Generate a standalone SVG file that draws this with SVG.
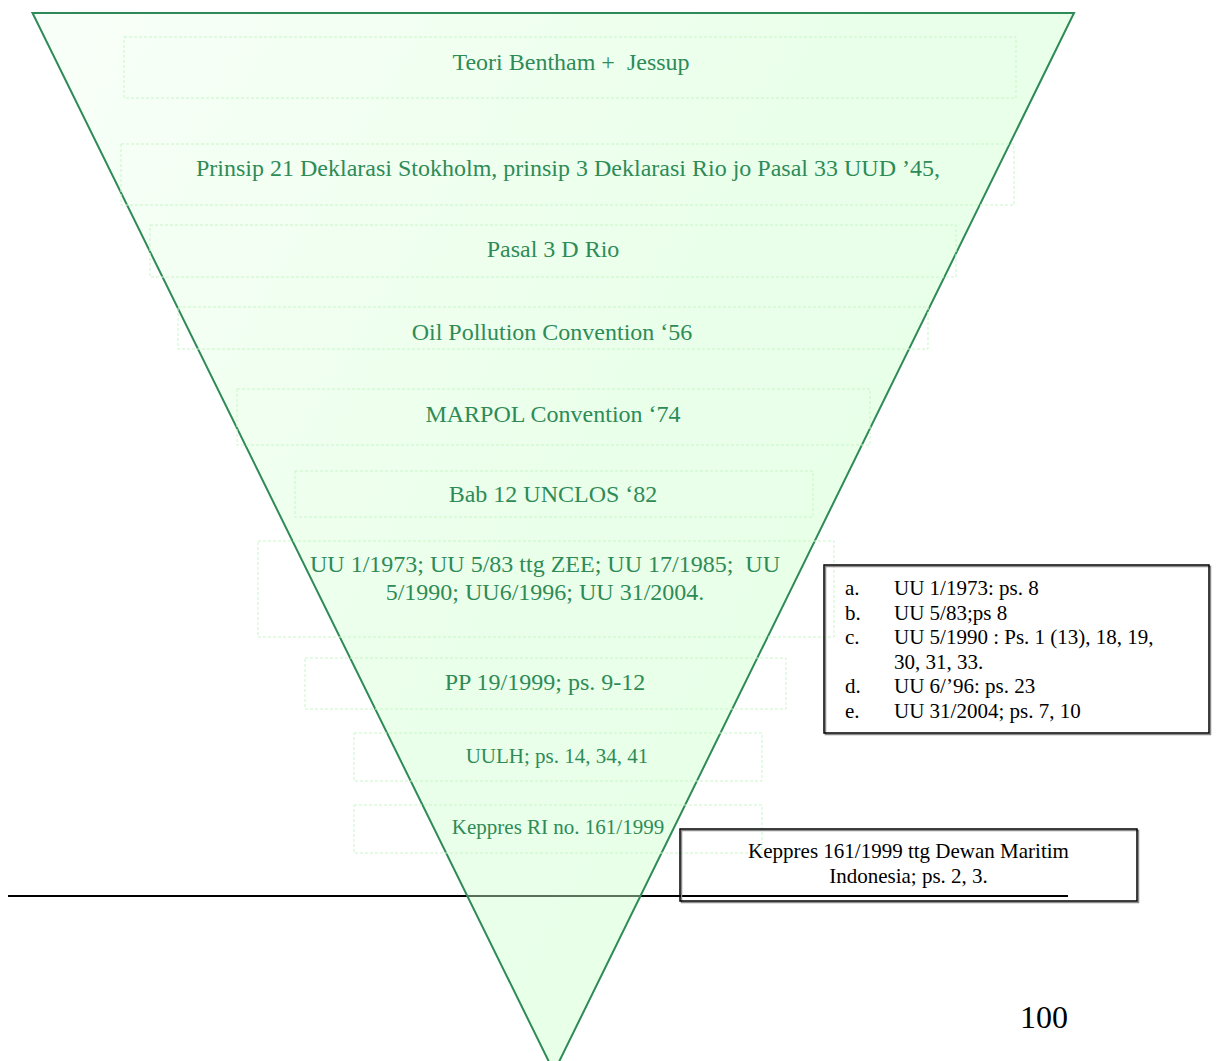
<svg xmlns="http://www.w3.org/2000/svg" width="1216" height="1061" viewBox="0 0 1216 1061">
  <defs>
    <linearGradient id="fillGrad" x1="0" y1="0" x2="1" y2="0.6">
      <stop offset="0" stop-color="#ccffcc" stop-opacity="0.12"/>
      <stop offset="0.55" stop-color="#ccffcc" stop-opacity="0.4"/>
      <stop offset="1" stop-color="#ccffcc" stop-opacity="0.5"/>
    </linearGradient>
    <style>
      .lvl { fill: none; stroke: #c8f5c8; stroke-width: 1; stroke-dasharray: 3 2; }
      .gt { font-family: "Liberation Serif", "Times New Roman", serif; font-size: 24px; fill: #2e8b57; text-anchor: middle; white-space: pre; }
      .gs { font-size: 21px; }
      .bt { font-family: "Liberation Serif", "Times New Roman", serif; font-size: 21px; fill: #000000; }
      .box { fill: none; stroke: #000000; stroke-width: 1.5; }
      .shadow { fill: none; stroke: #8a8a8a; stroke-width: 1.5; }
    </style>
  </defs>
  <rect x="0" y="0" width="1216" height="1061" fill="#ffffff"/>

  <g id="connectors">
    <line x1="8" y1="896" x2="1068" y2="896" stroke="#000000" stroke-width="2.2"/>
  </g>

  <g id="funnel">
    <polygon points="32.5,13 1074,13 554,1072" fill="url(#fillGrad)" stroke="#2e8b57" stroke-width="2" stroke-linejoin="miter"/>
  </g>

  <g id="level1">
    <rect class="lvl" x="124" y="37" width="892" height="61"/>
    <text class="gt" x="571" y="70" xml:space="preserve">Teori Bentham +  Jessup</text>
  </g>
  <g id="level2">
    <rect class="lvl" x="121" y="144" width="893" height="61"/>
    <text class="gt" x="568" y="176">Prinsip 21 Deklarasi Stokholm, prinsip 3 Deklarasi Rio jo Pasal 33 UUD ’45,</text>
  </g>
  <g id="level3">
    <rect class="lvl" x="150" y="225" width="806" height="52"/>
    <text class="gt" x="553" y="257">Pasal 3 D Rio</text>
  </g>
  <g id="level4">
    <rect class="lvl" x="178" y="307" width="750" height="42"/>
    <text class="gt" x="552" y="340">Oil Pollution Convention ‘56</text>
  </g>
  <g id="level5">
    <rect class="lvl" x="237" y="389" width="633" height="56"/>
    <text class="gt" x="553" y="422">MARPOL Convention ‘74</text>
  </g>
  <g id="level6">
    <rect class="lvl" x="295" y="471" width="518" height="46"/>
    <text class="gt" x="553" y="502">Bab 12 UNCLOS ‘82</text>
  </g>
  <g id="level7">
    <rect class="lvl" x="258" y="541" width="576" height="96"/>
    <text class="gt" x="545" y="572" xml:space="preserve">UU 1/1973; UU 5/83 ttg ZEE; UU 17/1985;  UU</text>
    <text class="gt" x="545" y="600">5/1990; UU6/1996; UU 31/2004.</text>
  </g>
  <g id="level8">
    <rect class="lvl" x="305" y="658" width="481" height="51"/>
    <text class="gt" x="545" y="690">PP 19/1999; ps. 9-12</text>
  </g>
  <g id="level9">
    <rect class="lvl" x="354" y="733" width="408" height="48"/>
    <text class="gt gs" x="557" y="763">UULH; ps. 14, 34, 41</text>
  </g>
  <g id="level10">
    <rect class="lvl" x="354" y="805" width="408" height="48"/>
    <text class="gt gs" x="558" y="834">Keppres RI no. 161/1999</text>
  </g>

  <g id="note-uu">
    <rect class="shadow" x="825.5" y="566.5" width="385" height="168"/>
    <rect class="box" x="824" y="565" width="385" height="168" fill="#ffffff"/>
    <text class="bt" x="845" y="595">a.</text>
    <text class="bt" x="894" y="595">UU 1/1973: ps. 8</text>
    <text class="bt" x="845" y="619.5">b.</text>
    <text class="bt" x="894" y="619.5">UU 5/83;ps 8</text>
    <text class="bt" x="845" y="644">c.</text>
    <text class="bt" x="894" y="644">UU 5/1990 : Ps. 1 (13), 18, 19,</text>
    <text class="bt" x="894" y="668.5">30, 31, 33.</text>
    <text class="bt" x="845" y="693">d.</text>
    <text class="bt" x="894" y="693">UU 6/’96: ps. 23</text>
    <text class="bt" x="845" y="717.5">e.</text>
    <text class="bt" x="894" y="717.5">UU 31/2004; ps. 7, 10</text>
  </g>

  <g id="note-keppres">
    <rect class="shadow" x="681.5" y="830.5" width="457" height="72"/>
    <rect class="box" x="680" y="829" width="457" height="72"/>
    <text class="bt" x="908.5" y="858" text-anchor="middle">Keppres 161/1999 ttg Dewan Maritim</text>
    <text class="bt" x="908.5" y="883" text-anchor="middle">Indonesia; ps. 2, 3.</text>
  </g>

  <g id="page-number">
    <text x="1068" y="1028" text-anchor="end" font-family="Liberation Serif, 'Times New Roman', serif" font-size="32" fill="#000000">100</text>
  </g>
</svg>
